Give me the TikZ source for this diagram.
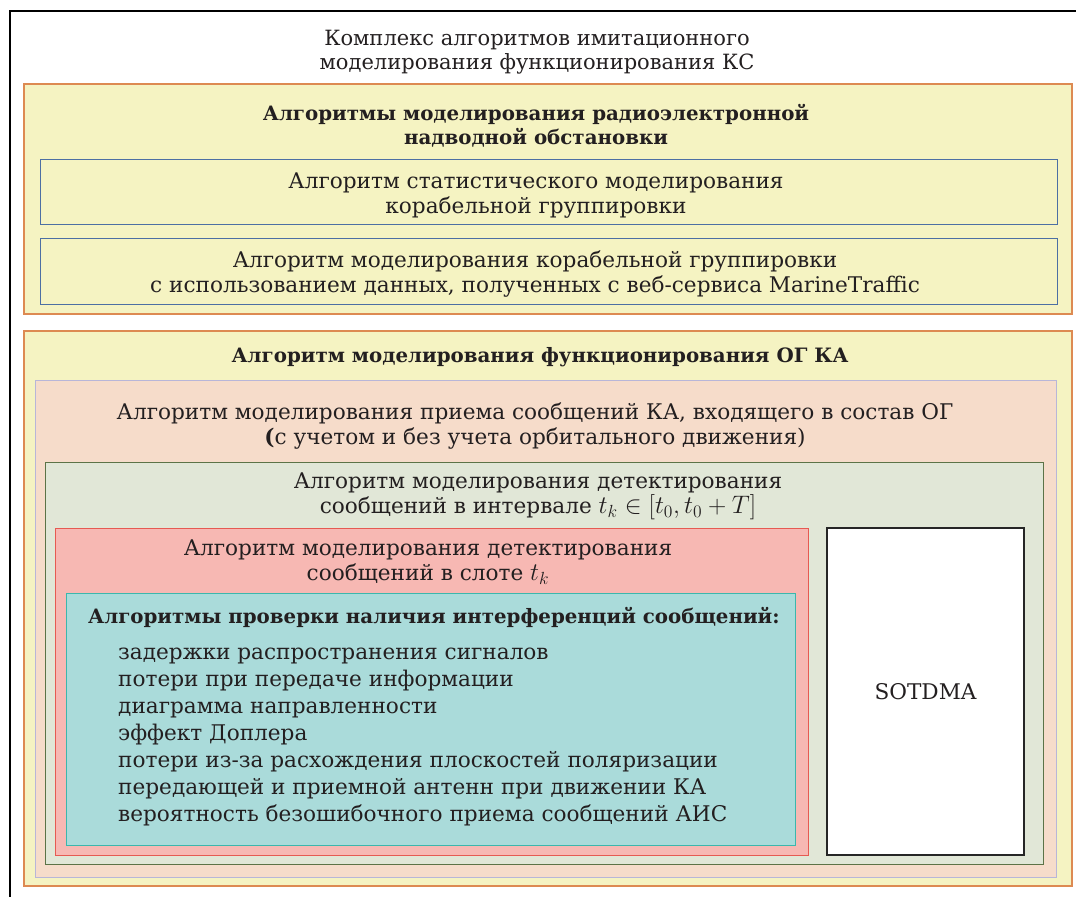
\documentclass[tikz,border=0pt]{standalone}
\usepackage{fontspec}
\setmainfont{DejaVu Serif}
\usetikzlibrary{positioning}
\definecolor{txt}{HTML}{231F20}
\definecolor{yelfill}{HTML}{F5F3C2}
\definecolor{orgline}{HTML}{DD8A52}
\definecolor{bluline}{HTML}{4C6FA3}
\definecolor{peafill}{HTML}{F6DCCA}
\definecolor{lavline}{HTML}{B8B6D8}
\definecolor{grnfill}{HTML}{E1E7D7}
\definecolor{grnline}{HTML}{5C7347}
\definecolor{pnkfill}{HTML}{F7B8B3}
\definecolor{redline}{HTML}{E65A52}
\definecolor{tealfill}{HTML}{AADBDA}
\definecolor{tealline}{HTML}{3BB7AD}
\newcommand{\bigmath}[1]{\scalebox{1.22}{$#1$}}
\tikzset{
  x=1pt,y=-1pt,
  frame/.style={rectangle,anchor=north west,inner sep=0pt,outer sep=0pt},
  yelbox/.style={frame,fill=yelfill,draw=orgline,line width=1.4pt},
  blubox/.style={frame,fill=yelfill,draw=bluline,line width=1pt},
  peabox/.style={frame,fill=peafill,draw=lavline,line width=1pt},
  grnbox/.style={frame,fill=grnfill,draw=grnline,line width=1pt},
  pnkbox/.style={frame,fill=pnkfill,draw=redline,line width=1pt},
  tealbox/.style={frame,fill=tealfill,draw=tealline,line width=1pt},
  whtbox/.style={frame,fill=white,draw=black!85,line width=1.3pt},
  lbl/.style={text=txt,align=center,font=\fontsize{21.6}{25}\selectfont,inner sep=0pt},
  blbl/.style={lbl,font=\fontsize{19.8}{24}\selectfont\bfseries},
  item/.style={text=txt,align=left,font=\fontsize{21.6}{27}\selectfont,inner sep=0pt}
}
\begin{document}
\begin{tikzpicture}
\useasboundingbox (0,0) rectangle (1076,897);
\coordinate (ftop) at (1076,11);
\coordinate (fcorner) at (10,11);
\coordinate (fbot) at (10,897);
\draw[line width=1.2pt,black] (ftop) -- (fcorner) -- (fbot);
\node[lbl,font=\fontsize{21}{24}\selectfont] (title) at (537,52)
  {Комплекс алгоритмов имитационного\\моделирования функционирования КС};
% Block A
\node[yelbox,minimum width=1048pt,minimum height=230pt] (A) at (24,84) {};
\node[blbl] (Atxt) at (536,126) {Алгоритмы моделирования радиоэлектронной\\надводной обстановки};
\node[blubox,minimum width=1017pt,minimum height=65pt] (A1) at (40,159) {};
\node[lbl] (A1txt) at (536,196) {Алгоритм статистического моделирования\\корабельной группировки};
\node[blubox,minimum width=1017pt,minimum height=66pt] (A2) at (40,238) {};
\node[lbl] (A2txt) at (535,274) {Алгоритм моделирования корабельной группировки\\с использованием данных, полученных с веб-сервиса MarineTraffic};
% Block B
\node[yelbox,minimum width=1048pt,minimum height=555pt] (B) at (24,331) {};
\node[blbl] (Btxt) at (540,357) {Алгоритм моделирования функционирования ОГ КА};
\node[peabox,minimum width=1021pt,minimum height=497pt] (C) at (35,380) {};
\node[lbl] (Ctxt) at (535,426) {Алгоритм моделирования приема сообщений КА, входящего в состав ОГ\\{\bfseries(}с учетом и без учета орбитального движения)};
\node[grnbox,minimum width=998pt,minimum height=402pt] (D) at (45,462) {};
\node[lbl] (Dtxt) at (538,496) {Алгоритм моделирования детектирования\\сообщений в интервале \bigmath{t_k\in[t_0,t_0+T]}};
\node[pnkbox,minimum width=753pt,minimum height=327pt] (E) at (55,528) {};
\node[lbl] (Etxt) at (428,562) {Алгоритм моделирования детектирования\\сообщений в слоте \bigmath{t_k}};
\node[tealbox,minimum width=729pt,minimum height=252pt] (F) at (66,593) {};
\node[blbl,anchor=west] (Ftxt) at (88,617) {Алгоритмы проверки наличия интерференций сообщений:};
\node[item,anchor=base west] (Fitems) at (118,821) {задержки распространения сигналов\\потери при передаче информации\\диаграмма направленности\\эффект Доплера\\потери из-за расхождения плоскостей поляризации\\передающей и приемной антенн при движении КА\\вероятность безошибочного приема сообщений АИС};
\node[whtbox,minimum width=197pt,minimum height=327pt] (S) at (827,528) {};
\node[lbl] (Stxt) at (S.center) {SOTDMA};
\end{tikzpicture}
\end{document}
